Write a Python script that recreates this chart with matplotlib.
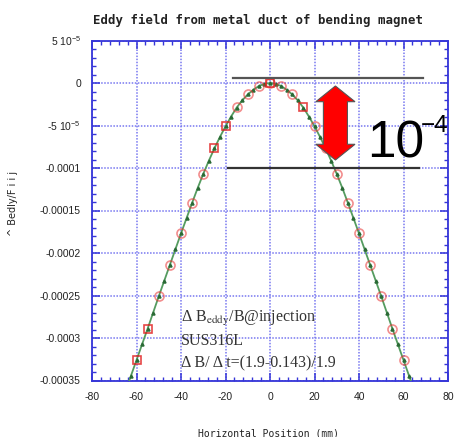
import matplotlib
matplotlib.use("Agg")
import matplotlib.pyplot as plt
from matplotlib.patches import Polygon
from matplotlib.ticker import MultipleLocator, FixedLocator

# ---- data ----
line_x = [-65, -62.5, -60, -57.5, -55, -52.5, -50, -47.5, -45, -42.5, -40, -37.5, -35, -32.5,
          -30, -27.5, -25, -22.5, -20, -17.5, -15, -12.5, -10, -7.5, -5, -2.5, 0,
          2.5, 5, 7.5, 10, 12.5, 15, 17.5, 20, 22.5, 25, 27.5, 30, 32.5, 35, 37.5,
          40, 42.5, 45, 47.5, 50, 52.5, 55, 57.5, 60, 62.5, 65]
line_y = [-3.63e-4, -3.445e-4, -3.26e-4, -3.075e-4, -2.89e-4, -2.70e-4, -2.51e-4, -2.325e-4,
          -2.14e-4, -1.955e-4, -1.77e-4, -1.59e-4, -1.41e-4, -1.235e-4, -1.07e-4, -9.15e-5,
          -7.7e-5, -6.35e-5, -5.1e-5, -3.95e-5, -2.9e-5, -2.05e-5, -1.35e-5, -8e-6, -3.5e-6,
          -1e-6, 0.0,
          -1e-6, -3.5e-6, -8e-6, -1.35e-5, -2.05e-5, -2.9e-5, -3.95e-5, -5.1e-5, -6.35e-5,
          -7.7e-5, -9.15e-5, -1.07e-4, -1.235e-4, -1.41e-4, -1.59e-4, -1.77e-4, -1.955e-4,
          -2.14e-4, -2.325e-4, -2.51e-4, -2.70e-4, -2.89e-4, -3.075e-4, -3.26e-4, -3.445e-4,
          -3.63e-4]

circ_x = [-50, -45, -40, -35, -30, -15, -10, -5, 0, 5, 10, 20, 25, 30, 35, 40, 45, 50, 55, 60]
circ_y = [-2.51e-4, -2.14e-4, -1.77e-4, -1.41e-4, -1.07e-4, -2.86e-5, -1.33e-5, -3.5e-6, 0.0,
          -3.5e-6, -1.33e-5, -5.1e-5, -7.7e-5, -1.07e-4, -1.41e-4, -1.77e-4, -2.14e-4,
          -2.51e-4, -2.89e-4, -3.26e-4]

sq_x = [-60, -55, -25, -20, 0, 15]
sq_y = [-3.26e-4, -2.89e-4, -7.7e-5, -5.1e-5, 0.0, -2.86e-5]

xticks = [-80, -60, -40, -20, 0, 20, 40, 60, 80]
yticks = [5e-5, 0, -5e-5, -1e-4, -1.5e-4, -2e-4, -2.5e-4, -3e-4, -3.5e-4]
ytick_labels = [r"5 10$^{-5}$", "0", r"-5 10$^{-5}$", "-0.0001", "-0.00015", "-0.0002",
                "-0.00025", "-0.0003", "-0.00035"]

title = "Eddy field from metal duct of bending magnet"
xlabel = "Horizontal Position (mm)"
ylabel = "^ Bedly/F i i j"

# ---- figure ----
plt.rcParams['mathtext.fontset'] = 'custom'
plt.rcParams['mathtext.rm'] = 'Liberation Sans'
plt.rcParams['mathtext.it'] = 'Liberation Sans'

W, H = 459, 437
fig = plt.figure(figsize=(W / 100, H / 100), dpi=100)
ax = fig.add_axes([92 / W, 1 - 380.5 / H, (448 - 92) / W, (380.5 - 40.5) / H])

blue = '#3535d8'
ax.set_xlim(-80, 80)
ax.set_ylim(-3.5e-4, 5e-5)
ax.xaxis.set_major_locator(FixedLocator(xticks))
ax.xaxis.set_minor_locator(MultipleLocator(4))
ax.yaxis.set_major_locator(FixedLocator(yticks))
ax.yaxis.set_minor_locator(MultipleLocator(1e-5))
ax.set_yticklabels(ytick_labels)
ax.set_xticklabels([str(v) for v in xticks])

for sp in ax.spines.values():
    sp.set_color(blue)
    sp.set_linewidth(1.3)
ax.tick_params(which='both', direction='in', top=True, right=True, color=blue,
               labelsize=7.5, labelcolor='#222222')
ax.tick_params(which='major', length=6, width=1.1, pad=8)
ax.tick_params(which='minor', length=3, width=1.0)
for lab in ax.get_xticklabels() + ax.get_yticklabels():
    lab.set_fontfamily('Liberation Sans')

ax.grid(True, which='major', color='#7878f0', linestyle=(0, (1, 1)), linewidth=1.1)
ax.set_axisbelow(True)

ax.plot(line_x, line_y, color='#559c60', lw=1.3, marker='^', markersize=2.2,
        markerfacecolor='#2a6a35', markeredgecolor='#2a6a35', zorder=3)
ax.plot(circ_x, circ_y, linestyle='none', marker='o', markersize=6.5, markerfacecolor='none',
        markeredgecolor='#e83030', markeredgewidth=1.2, alpha=0.55, zorder=4)
ax.plot(sq_x, sq_y, linestyle='none', marker='s', markersize=5.5, markerfacecolor='none',
        markeredgecolor='#e01818', markeredgewidth=1.2, alpha=0.8, zorder=4)

# annotation lines
ax.plot([-16.6, 68.8], [5.5e-6, 5.5e-6], color='#555555', lw=1.6, zorder=5)
ax.plot([-19, 67.1], [-1.0e-4, -1.0e-4], color='#333333', lw=1.6, zorder=5)

# double arrow
cx, hwh, hws = 29.4, 8.8, 5.4
yt, yb, hl = -3.5e-6, -9.06e-5, 1.85e-5
pts = [(cx, yt), (cx + hwh, yt - hl), (cx + hws, yt - hl), (cx + hws, yb + hl),
       (cx + hwh, yb + hl), (cx, yb), (cx - hwh, yb + hl), (cx - hws, yb + hl),
       (cx - hws, yt - hl), (cx - hwh, yt - hl)]
ax.add_patch(Polygon(pts, closed=True, facecolor='#ff0000', edgecolor='#555555', lw=0.8,
                     zorder=6))

fig.text(367 / W, 1 - 157 / H, "10", fontsize=37, family='Liberation Sans',
         va='baseline', ha='left', color='black')
fig.text(421 / W, 1 - 132 / H, "\u22124", fontsize=17.5, family='Liberation Sans',
         va='baseline', ha='left', color='black')

serif = 'Liberation Serif'
fig.text(181 / W, 1 - 321.7 / H, r"Δ B$_{\mathrm{eddy}}$/B@injection", fontsize=11.5,
         family=serif, color='#333333', va='baseline', math_fontfamily='stix')
fig.text(181 / W, 1 - 345 / H, "SUS316L", fontsize=11.5, family=serif, color='#333333',
         va='baseline')
fig.text(181 / W, 1 - 367 / H, "Δ B/ Δ t=(1.9-0.143)/1.9", fontsize=11.5, family=serif,
         color='#333333', va='baseline')

fig.text(258 / W, 1 - 20 / H, title, fontsize=8.9, family='DejaVu Sans Mono',
         weight='bold', ha='center', va='center', color='#222222')
fig.text(268 / W, 1 - 433 / H, xlabel, fontsize=7, family='DejaVu Sans Mono',
         ha='center', va='center', color='#222222')
fig.text(13 / W, 1 - 203 / H, ylabel, fontsize=7, family='DejaVu Sans', rotation=90,
         ha='center', va='center', color='#222222')

fig.savefig("out.png", dpi=100)
